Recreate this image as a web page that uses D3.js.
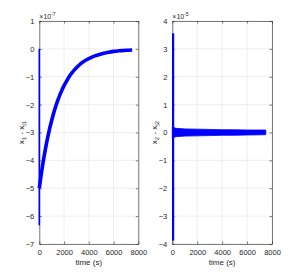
<!DOCTYPE html>
<html>
<head>
<meta charset="utf-8">
<script src="https://cdn.jsdelivr.net/npm/d3@7"></script>
<style>
  body { margin: 0; background: #fff; }
  svg { font-family: "Liberation Sans", Arial, sans-serif; }
</style>
</head>
<body>
<div id="chart"></div>
<script>
// left panel: x1 - x|1 (x 1e-7)
const timeA = [0, 250, 500, 750, 1000, 1250, 1500, 1750, 2000, 2250, 2500, 2750, 3000,
  3250, 3500, 3750, 4000, 4500, 5000, 5500, 6000, 6500, 7000, 7500];
const errA = [-5.0, -4.23, -3.58, -3.03, -2.57, -2.17, -1.84, -1.56, -1.32, -1.12, -0.94,
  -0.80, -0.68, -0.57, -0.48, -0.41, -0.35, -0.25, -0.18, -0.13, -0.09, -0.07, -0.05, -0.04];
const spikeA = [0, -6.33];

// right panel: x2 - x|2 (x 1e-5)
const timeB = [0, 100, 300, 600, 1000, 2000, 3000, 4000, 5000, 6000, 7500];
const bandUpB = [0.22, 0.18, 0.15, 0.14, 0.13, 0.12, 0.11, 0.10, 0.10, 0.09, 0.09];
const bandLoB = [-0.22, -0.18, -0.15, -0.14, -0.13, -0.12, -0.11, -0.10, -0.10, -0.09, -0.08];
const spikeB = [3.56, -3.88];

const xTicks = [0, 2000, 4000, 6000, 8000];
const yTicksA = [1, 0, -1, -2, -3, -4, -5, -6, -7];
const yTicksB = [4, 3, 2, 1, 0, -1, -2, -3, -4];

const W = 303, H = 275;
const svg = d3.select('#chart').append('svg').attr('width', W).attr('height', H);
svg.append('rect').attr('width', W).attr('height', H).attr('fill', '#fff');

const axisCol = '#262626';
const blue = '#0000ff';

function panel(left, right, yDomain, yTicks, expo, ylab) {
  const top = 21, bottom = 244;
  const x = d3.scaleLinear().domain([0, 8000]).range([left, right]);
  const y = d3.scaleLinear().domain(yDomain).range([bottom, top]);
  const g = svg.append('g').style('color', axisCol);

  // grid
  g.selectAll('.gx').data(xTicks).enter().append('line')
    .attr('x1', d => x(d)).attr('x2', d => x(d)).attr('y1', top).attr('y2', bottom)
    .attr('stroke', '#e3e3e3').attr('stroke-width', 0.6);
  g.selectAll('.gy').data(yTicks).enter().append('line')
    .attr('x1', left).attr('x2', right).attr('y1', d => y(d)).attr('y2', d => y(d))
    .attr('stroke', '#e3e3e3').attr('stroke-width', 0.6);

  // axes with inward ticks
  const ax = g.append('g').attr('transform', 'translate(0,' + bottom + ')')
    .call(d3.axisBottom(x).tickValues(xTicks).tickSizeInner(-2.5).tickSizeOuter(0).tickPadding(6)
      .tickFormat(d3.format('d')));
  g.append('g').attr('transform', 'translate(' + left + ',0)')
    .call(d3.axisLeft(y).tickValues(yTicks).tickSizeInner(-2.5).tickSizeOuter(0).tickPadding(5)
      .tickFormat(d3.format('d')));
  g.append('g').attr('transform', 'translate(0,' + top + ')')
    .call(d3.axisTop(x).tickValues(xTicks).tickSizeInner(-2.5).tickSizeOuter(0).tickFormat(''));
  g.append('g').attr('transform', 'translate(' + right + ',0)')
    .call(d3.axisRight(y).tickValues(yTicks).tickSizeInner(-2.5).tickSizeOuter(0).tickFormat(''));
  g.selectAll('.domain').attr('stroke', axisCol).attr('stroke-width', 0.6);
  g.selectAll('.tick line').attr('stroke', axisCol).attr('stroke-width', 0.6);
  g.selectAll('.tick text').attr('fill', axisCol).style('font-size', '7.5px').style('font-family', null);
  ax.selectAll('.tick text').attr('dy', '0.6em');

  // exponent
  const ex = g.append('text').attr('x', left).attr('y', top - 2.5)
    .attr('fill', axisCol).style('font-size', '7px');
  ex.append('tspan').text('\u00d710');
  ex.append('tspan').attr('dy', -3).style('font-size', '5px').text(expo);

  // x label
  g.append('text').attr('x', (left + right) / 2).attr('y', 265)
    .attr('text-anchor', 'middle').attr('fill', axisCol).style('font-size', '8px').text('time (s)');

  // y label
  const yl = g.append('text')
    .attr('transform', 'translate(' + (left - 15) + ',' + ((top + bottom) / 2) + ') rotate(-90)')
    .attr('text-anchor', 'middle').attr('fill', axisCol).style('font-size', '8px');
  yl.append('tspan').text('x');
  yl.append('tspan').attr('dy', 2).style('font-size', '6px').text(ylab);
  yl.append('tspan').attr('dy', -2).text(' - x');
  yl.append('tspan').attr('dy', 2).style('font-size', '6px').text('|' + ylab);

  return { x, y, g };
}

// left
const pA = panel(39.3, 138.3, [-7, 1], yTicksA, '-7', '1');
pA.g.append('line')
  .attr('x1', pA.x(0)).attr('x2', pA.x(0))
  .attr('y1', pA.y(spikeA[0])).attr('y2', pA.y(spikeA[1]))
  .attr('stroke', blue).attr('stroke-width', 1.6);
pA.g.append('path')
  .datum(timeA.map((t, i) => [t, errA[i]]))
  .attr('d', d3.line().x(d => pA.x(d[0])).y(d => pA.y(d[1])).curve(d3.curveMonotoneX))
  .attr('fill', 'none').attr('stroke', blue).attr('stroke-width', 3.6);

// right
const pB = panel(172.3, 272, [-4, 4], yTicksB, '-5', '2');
pB.g.append('path')
  .datum(timeB.map((t, i) => [t, bandUpB[i], bandLoB[i]]))
  .attr('d', d3.area().x(d => pB.x(d[0])).y0(d => pB.y(d[2])).y1(d => pB.y(d[1])))
  .attr('fill', blue).attr('stroke', blue).attr('stroke-width', 0.8);
pB.g.append('line')
  .attr('x1', pB.x(0) + 0.8).attr('x2', pB.x(0) + 0.8)
  .attr('y1', pB.y(spikeB[0])).attr('y2', pB.y(spikeB[1]))
  .attr('stroke', blue).attr('stroke-width', 2.2);
</script>
</body>
</html>
